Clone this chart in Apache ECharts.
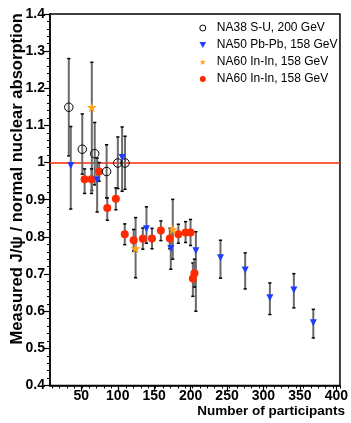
<!DOCTYPE html>
<html><head><meta charset="utf-8">
<script src="https://cdn.jsdelivr.net/npm/echarts@6/dist/echarts.min.js"></script>
<style>html,body{margin:0;padding:0;background:#fff}#c{width:351px;height:423px}</style>
</head><body><div id="c"></div>
<script>
// NA38 S-U, 200 GeV
const na38X = [32.8, 51.3, 68.4, 84.7, 100.1, 110.0];
const na38Y = [1.149, 1.036, 1.024, 0.976, 0.999, 0.999];
const na38Lo = [1.018, 0.969, 0.940, 0.905, 0.930, 0.928];
const na38Hi = [1.280, 1.131, 1.108, 1.048, 1.069, 1.071];
// NA50 Pb-Pb, 158 GeV
const na50X = [35.5, 71.7, 106.0, 139.4, 172.8, 207.2, 241.0, 274.9, 308.8, 341.7, 368.4];
const na50Y = [0.992, 0.953, 1.014, 0.822, 0.769, 0.763, 0.744, 0.711, 0.636, 0.657, 0.569];
const na50Lo = [0.875, 0.867, 0.923, 0.783, 0.713, 0.600, 0.689, 0.660, 0.591, 0.609, 0.528];
const na50Hi = [1.097, 1.012, 1.096, 0.881, 0.815, 0.814, 0.791, 0.757, 0.676, 0.701, 0.605];
// NA60 In-In (stars)
const na60sX = [64.4, 124.5, 175.5];
const na60sY = [1.149, 0.769, 0.820];
const na60sLo = [0.925, 0.690, 0.740];
const na60sHi = [1.270, 0.852, 0.901];
// NA60 In-In (circles)
const na60cX = [54.5, 64.0, 74.4, 85.6, 97.4, 109.6, 121.8, 134.4, 147.0, 159.2, 171.4, 183.2, 193.1, 199.9, 203.1, 205.3];
const na60cY = [0.955, 0.955, 0.976, 0.878, 0.903, 0.807, 0.791, 0.795, 0.796, 0.817, 0.796, 0.807, 0.812, 0.812, 0.688, 0.702];
const na60cLo = [0.917, 0.917, 0.950, 0.845, 0.873, 0.779, 0.762, 0.767, 0.768, 0.790, 0.768, 0.783, 0.785, 0.777, 0.640, 0.665];
const na60cHi = [0.983, 0.983, 1.000, 0.905, 0.932, 0.835, 0.820, 0.824, 0.823, 0.843, 0.823, 0.834, 0.841, 0.847, 0.730, 0.740];

const xMajor = [50, 100, 150, 200, 250, 300, 350, 400];
const xMinor = [10,20,30,40,50,60,70,80,90,100,110,120,130,140,150,160,170,180,190,200,210,220,230,240,250,260,270,280,290,300,310,320,330,340,350,360,370,380,390,400];

const names = ['NA38 S-U, 200 GeV', 'NA50 Pb-Pb, 158 GeV', 'NA60 In-In, 158 GeV', 'NA60 In-In, 158 GeV '];
const triDown = 'path://M0,0 L10,0 L5,9 Z';
const star = 'path://M50,0 L61,35 L98,35 L68,57 L79,91 L50,70 L21,91 L32,57 L2,35 L39,35 Z';

function pts(xs, ys) { return xs.map((x, i) => [x, ys[i]]); }
function errs(xs, lo, hi) { return xs.map((x, i) => [x, lo[i], hi[i]]); }

function renderErr(params, api) {
  const x = api.value(0), lo = api.value(1), hi = api.value(2);
  const p1 = api.coord([x, hi]), p2 = api.coord([x, lo]);
  const w = 1.6;
  return { type: 'group', children: [
    { type: 'line', shape: { x1: p1[0], y1: p1[1], x2: p2[0], y2: p2[1] }, style: { stroke: '#6a6a6a', lineWidth: 2 } },
    { type: 'line', shape: { x1: p1[0] - w, y1: p1[1], x2: p1[0] + w, y2: p1[1] }, style: { stroke: '#000', lineWidth: 1.5 } },
    { type: 'line', shape: { x1: p2[0] - w, y1: p2[1], x2: p2[0] + w, y2: p2[1] }, style: { stroke: '#000', lineWidth: 1.5 } }
  ] };
}
function errSeries(data) {
  return { type: 'custom', renderItem: renderErr, data: data, encode: { x: 0, y: [1, 2] }, z: 2, silent: true };
}

const fontFam = '"Liberation Sans", Arial, Helvetica, sans-serif';
const chart = echarts.init(document.getElementById('c'));
chart.setOption({
  animation: false,
  grid: [
    { left: 50, right: 7, top: 14, bottom: 37.5, show: true, borderColor: '#000', borderWidth: 1.5 },
    { left: 50, right: 7, top: 14, bottom: 37.5, show: false }
  ],
  legend: {
    orient: 'vertical', left: 194.3, top: 17, itemWidth: 18, itemHeight: 6, itemGap: 5,
    textStyle: { fontFamily: fontFam, fontSize: 12, color: '#000' },
    data: [
      { name: names[0], icon: 'circle', itemStyle: { color: 'rgba(255,255,255,0)', borderColor: '#000', borderWidth: 1 } },
      { name: names[1], icon: triDown },
      { name: names[2], icon: star, itemStyle: { color: '#ffa31a' } },
      { name: names[3], icon: 'circle' }
    ]
  },
  xAxis: [
    { type: 'value', gridIndex: 0, min: 7, max: 405,
      axisLine: { lineStyle: { color: '#000', width: 1.5 } },
      axisTick: { show: true, customValues: xMajor, length: 6, lineStyle: { color: '#000', width: 1.2 } },
      axisLabel: { customValues: xMajor, margin: 4, color: '#000', fontFamily: fontFam, fontWeight: 'bold', fontSize: 14 },
      splitLine: { show: false } },
    { type: 'value', gridIndex: 1, min: 7, max: 405,
      axisLine: { show: false },
      axisTick: { show: true, customValues: xMinor, length: 3, lineStyle: { color: '#000', width: 1 } },
      axisLabel: { show: false }, splitLine: { show: false } }
  ],
  yAxis: [
    { type: 'value', gridIndex: 0, min: 0.4, max: 1.4, interval: 0.1,
      axisLine: { show: true, lineStyle: { color: '#000', width: 1.5 } },
      axisTick: { show: true, length: 6, lineStyle: { color: '#000', width: 1.2 } },
      minorTick: { show: true, splitNumber: 5, length: 3, lineStyle: { color: '#000', width: 1 } },
      axisLabel: { margin: 5, color: '#000', fontFamily: fontFam, fontWeight: 'bold', fontSize: 14,
        formatter: v => String(+v.toFixed(1)) },
      splitLine: { show: false } },
    { type: 'value', gridIndex: 1, min: 0.4, max: 1.4, show: false }
  ],
  series: [
    errSeries(errs(na38X, na38Lo, na38Hi)),
    errSeries(errs(na50X, na50Lo, na50Hi)),
    errSeries(errs(na60sX, na60sLo, na60sHi)),
    errSeries(errs(na60cX, na60cLo, na60cHi)),
    { name: names[0], type: 'scatter', data: pts(na38X, na38Y), symbol: 'circle', symbolSize: 8.5, z: 5,
      itemStyle: { color: 'rgba(255,255,255,0)', borderColor: '#000', borderWidth: 1, opacity: 1 },
      markLine: { silent: true, symbol: 'none', label: { show: false }, data: [{ yAxis: 1 }],
        lineStyle: { color: '#ff2a00', width: 1.5, type: 'solid' }, z: 1 } },
    { name: names[3], type: 'scatter', data: pts(na60cX, na60cY), symbol: 'circle', symbolSize: 8, z: 4,
      itemStyle: { color: '#ff2a00', opacity: 1 } },
    { name: names[1], type: 'scatter', data: pts(na50X, na50Y), symbol: triDown, symbolSize: [7, 7], z: 6,
      itemStyle: { color: '#1f3cff', opacity: 1 } },
    { name: names[2], type: 'scatter', data: pts(na60sX, na60sY), symbol: star, symbolSize: 10, z: 6,
      itemStyle: { color: '#ffa31a', opacity: 1 } }
  ],
  graphic: [
    { type: 'text', x: 345, y: 411, style: { text: 'Number of participants', textAlign: 'right', textVerticalAlign: 'middle',
      font: 'bold 13.5px ' + fontFam, fill: '#000' } },
    { type: 'text', x: 17, y: 13, rotation: Math.PI / 2, style: { text: 'Measured J/\u03c8 / normal nuclear absorption', textAlign: 'right', textVerticalAlign: 'middle',
      font: 'bold 16.6px ' + fontFam, fill: '#000' } }
  ]
});
</script></body></html>
